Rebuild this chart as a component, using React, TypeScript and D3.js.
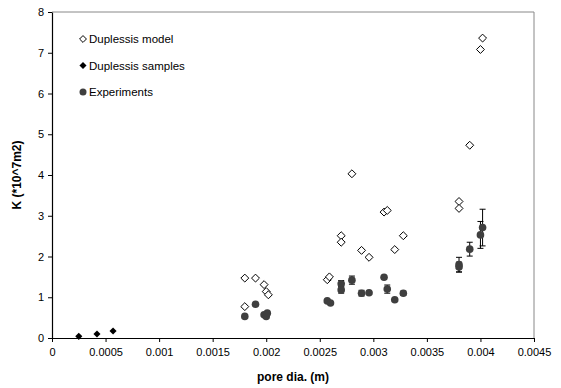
import React, { useEffect, useRef } from "react";
import * as d3 from "d3";

const xTicks = [0, 0.0005, 0.001, 0.0015, 0.002, 0.0025, 0.003, 0.0035, 0.004, 0.0045];
const yTicks = [0, 1, 2, 3, 4, 5, 6, 7, 8];

const modelX = [0.0018, 0.0019, 0.00198, 0.002, 0.00202, 0.0018, 0.00257, 0.00259, 0.0027, 0.0027, 0.0028, 0.00289, 0.00296, 0.0031, 0.00313, 0.0032, 0.00328, 0.0038, 0.0038, 0.0039, 0.004, 0.00402];
const modelY = [1.47, 1.47, 1.31, 1.14, 1.06, 0.77, 1.43, 1.5, 2.51, 2.35, 4.03, 2.15, 1.98, 3.09, 3.13, 2.17, 2.51, 3.35, 3.18, 4.73, 7.08, 7.36];

const samplesX = [0.00025, 0.00042, 0.00057];
const samplesY = [0.04, 0.1, 0.17];

const expX = [0.0018, 0.0019, 0.00198, 0.002, 0.00201, 0.00257, 0.0026, 0.0027, 0.0027, 0.0028, 0.00289, 0.00296, 0.0031, 0.00313, 0.0032, 0.00328, 0.0038, 0.0038, 0.0039, 0.004, 0.00402];
const expY = [0.53, 0.83, 0.57, 0.53, 0.61, 0.91, 0.86, 1.33, 1.18, 1.42, 1.1, 1.11, 1.49, 1.2, 0.94, 1.1, 1.8, 1.74, 2.18, 2.53, 2.71];
const expErr = [0, 0, 0, 0, 0, 0, 0, 0.08, 0.08, 0.1, 0.07, 0, 0.04, 0.1, 0, 0.05, 0.18, 0.12, 0.17, 0.33, 0.45];

const legendLabels = ["Duplessis model", "Duplessis samples", "Experiments"];

const App = () => {
  const svgRef = useRef<SVGSVGElement>(null);
  const svgWidth = 561;
  const svgHeight = 388;
  const margin = { top: 12, right: 27, bottom: 50, left: 52 };

  useEffect(() => {
    const innerWidth = svgWidth - margin.left - margin.right;
    const innerHeight = svgHeight - margin.top - margin.bottom;
    const font = "'Liberation Sans', Arial, sans-serif";

    const svg = d3.select(svgRef.current);
    svg.selectAll("*").remove();

    const xScale = d3.scaleLinear().domain([0, 0.0045]).range([0, innerWidth]);
    const yScale = d3.scaleLinear().domain([0, 8]).range([innerHeight, 0]);

    const g = svg
      .append("g")
      .attr("transform", `translate(${margin.left},${margin.top})`);

    // grey frame on top and right
    g.append("path")
      .attr("d", `M0,0H${innerWidth}V${innerHeight}`)
      .attr("fill", "none")
      .attr("stroke", "#888")
      .attr("stroke-width", 1);

    const xAxis = d3
      .axisBottom(xScale)
      .tickValues(xTicks)
      .tickSize(4)
      .tickSizeOuter(0)
      .tickPadding(6)
      .tickFormat((d) => String(+d));

    const yAxis = d3
      .axisLeft(yScale)
      .tickValues(yTicks)
      .tickSize(4)
      .tickSizeOuter(0)
      .tickPadding(4);

    const xAxisG = g
      .append("g")
      .attr("transform", `translate(0,${innerHeight})`)
      .call(xAxis);
    const yAxisG = g.append("g").call(yAxis);

    [xAxisG, yAxisG].forEach((a) => {
      a.selectAll("text")
        .attr("font-family", font)
        .attr("font-size", 11)
        .attr("fill", "#000");
      a.selectAll("line").attr("stroke", "#000");
      a.select(".domain").attr("stroke", "#000").attr("stroke-width", 1.2);
    });

    // axis titles
    svg
      .append("text")
      .attr("x", margin.left + innerWidth / 2)
      .attr("y", 381)
      .attr("text-anchor", "middle")
      .attr("font-family", font)
      .attr("font-size", 12)
      .attr("font-weight", "bold")
      .text("pore dia. (m)");

    svg
      .append("text")
      .attr("transform", `translate(21,${margin.top + innerHeight / 2}) rotate(-90)`)
      .attr("text-anchor", "middle")
      .attr("font-family", font)
      .attr("font-size", 12)
      .attr("font-weight", "bold")
      .text("K (*10^7m2)");

    const diamond = d3.symbol().type(d3.symbolDiamond2).size(40);
    const smallDiamond = d3.symbol().type(d3.symbolDiamond2).size(32);

    // error bars
    const capW = 3;
    expX.forEach((x, i) => {
      if (!expErr[i]) return;
      const cx = xScale(x);
      const y1 = yScale(expY[i] - expErr[i]);
      const y2 = yScale(expY[i] + expErr[i]);
      const eg = g.append("g").attr("stroke", "#000").attr("stroke-width", 1);
      eg.append("line").attr("x1", cx).attr("x2", cx).attr("y1", y1).attr("y2", y2);
      eg.append("line").attr("x1", cx - capW).attr("x2", cx + capW).attr("y1", y1).attr("y2", y1);
      eg.append("line").attr("x1", cx - capW).attr("x2", cx + capW).attr("y1", y2).attr("y2", y2);
    });

    // experiments
    g.selectAll("circle.exp")
      .data(expX)
      .enter()
      .append("circle")
      .attr("class", "exp")
      .attr("cx", (d) => xScale(d))
      .attr("cy", (d, i) => yScale(expY[i]))
      .attr("r", 3.8)
      .attr("fill", "#3f3f3f");

    // duplessis model
    g.selectAll("path.model")
      .data(modelX)
      .enter()
      .append("path")
      .attr("class", "model")
      .attr("d", diamond)
      .attr("transform", (d, i) => `translate(${xScale(d)},${yScale(modelY[i])})`)
      .attr("fill", "#fff")
      .attr("stroke", "#000")
      .attr("stroke-width", 1);

    // duplessis samples
    g.selectAll("path.samples")
      .data(samplesX)
      .enter()
      .append("path")
      .attr("class", "samples")
      .attr("d", smallDiamond)
      .attr("transform", (d, i) => `translate(${xScale(d)},${yScale(samplesY[i])})`)
      .attr("fill", "#000");

    // legend
    const legend = svg.append("g").attr("font-family", font).attr("font-size", 11.5);
    legendLabels.forEach((label, i) => {
      const ly = 39 + i * 26.5;
      if (i === 0) {
        legend.append("path").attr("d", d3.symbol().type(d3.symbolDiamond2).size(30)).attr("transform", `translate(83,${ly})`)
          .attr("fill", "#fff").attr("stroke", "#000");
      } else if (i === 1) {
        legend.append("path").attr("d", smallDiamond).attr("transform", `translate(83,${ly})`)
          .attr("fill", "#000");
      } else {
        legend.append("circle").attr("cx", 83).attr("cy", ly).attr("r", 3.5).attr("fill", "#3f3f3f");
      }
      legend.append("text").attr("x", 89).attr("y", ly + 4).attr("fill", "#000").text(label);
    });
  }, []);

  return (
    <svg
      ref={svgRef}
      width={svgWidth}
      height={svgHeight}
      style={{ position: "absolute", left: 0, top: 0, background: "#fff" }}
    ></svg>
  );
};

export default App;
